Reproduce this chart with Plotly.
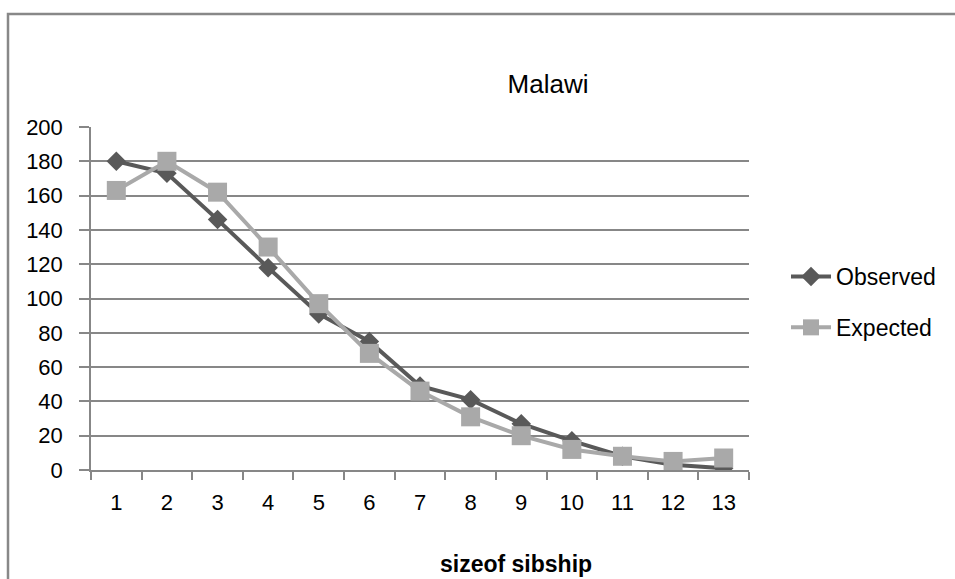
import plotly.graph_objects as go

categories = ["1", "2", "3", "4", "5", "6", "7", "8", "9", "10", "11", "12", "13"]
observed = [180, 173, 146, 118, 91, 75, 49, 41, 27, 17, 8, 3, 1]
expected = [163, 180, 162, 130, 97, 68, 46, 31, 20, 12, 8, 5, 7]
y_ticks = [0, 20, 40, 60, 80, 100, 120, 140, 160, 180, 200]

FONT = "Liberation Sans, Arial, sans-serif"
DARK = "#595959"
LIGHT = "#a9a9a9"
GRID = "#878787"

# plot area in pixels
L, R, T, B = 91, 749, 127, 470
W, H = 955, 579
pw, ph = R - L, B - T

def px_x(x):
    return (x - L) / pw

def px_y(y):
    return (B - y) / ph

fig = go.Figure()
fig.add_trace(go.Scatter(
    x=categories, y=observed, name="Observed", mode="lines+markers",
    line=dict(color=DARK, width=4),
    marker=dict(symbol="diamond", size=15, color=DARK),
    legendgroup="a",
))
fig.add_trace(go.Scatter(
    x=categories, y=expected, name="Expected", mode="lines+markers",
    line=dict(color=LIGHT, width=4),
    marker=dict(symbol="square", size=19, color=LIGHT),
    legendgroup="b",
))

fig.update_layout(
    width=W, height=H,
    margin=dict(l=L, r=W - R, t=T, b=H - B, autoexpand=False),
    paper_bgcolor="white", plot_bgcolor="white",
    font=dict(family=FONT, size=22, color="black"),
    title=dict(text="Malawi", x=px_x(548), xref="paper", xanchor="center",
               y=1 - 84 / H, yref="container", yanchor="middle",
               font=dict(family=FONT, size=26, color="black")),
    xaxis=dict(
        type="category", categoryorder="array", categoryarray=categories,
        range=[-0.5, len(categories) - 0.5],
        tickson="boundaries", ticks="outside", ticklen=8, tickwidth=2,
        tickcolor=GRID, showline=True, linecolor=GRID, linewidth=2,
        showgrid=False, ticklabelstandoff=12,
        tickfont=dict(family=FONT, size=22, color="black"),
    ),
    yaxis=dict(
        range=[0, 200], tickvals=y_ticks, ticks="outside", ticklen=10,
        tickcolor=GRID, tickwidth=1.5, showline=True, linecolor=GRID, linewidth=1.5,
        showgrid=True, gridcolor=GRID, gridwidth=1.5, zeroline=False,
        ticklabelstandoff=12,
        tickfont=dict(family=FONT, size=22, color="black"),
    ),
    legend=dict(x=px_x(786), xanchor="left", y=px_y(302), yanchor="middle",
                font=dict(family=FONT, size=23, color="black"),
                tracegroupgap=18, bgcolor="rgba(0,0,0,0)", itemwidth=40),
    showlegend=True,
    annotations=[dict(text="<b>sizeof sibship</b>", x=px_x(516), y=px_y(564),
                      xref="paper", yref="paper", xanchor="center", yanchor="middle",
                      showarrow=False, font=dict(family=FONT, size=23, color="black"))],
    shapes=[dict(type="rect", xref="paper", yref="paper",
                 x0=px_x(8), x1=px_x(W + 20), y0=px_y(H + 20), y1=px_y(14),
                 line=dict(color="#888888", width=2.5), fillcolor="rgba(0,0,0,0)",
                 layer="below")],
)

fig.write_html("out.html")
